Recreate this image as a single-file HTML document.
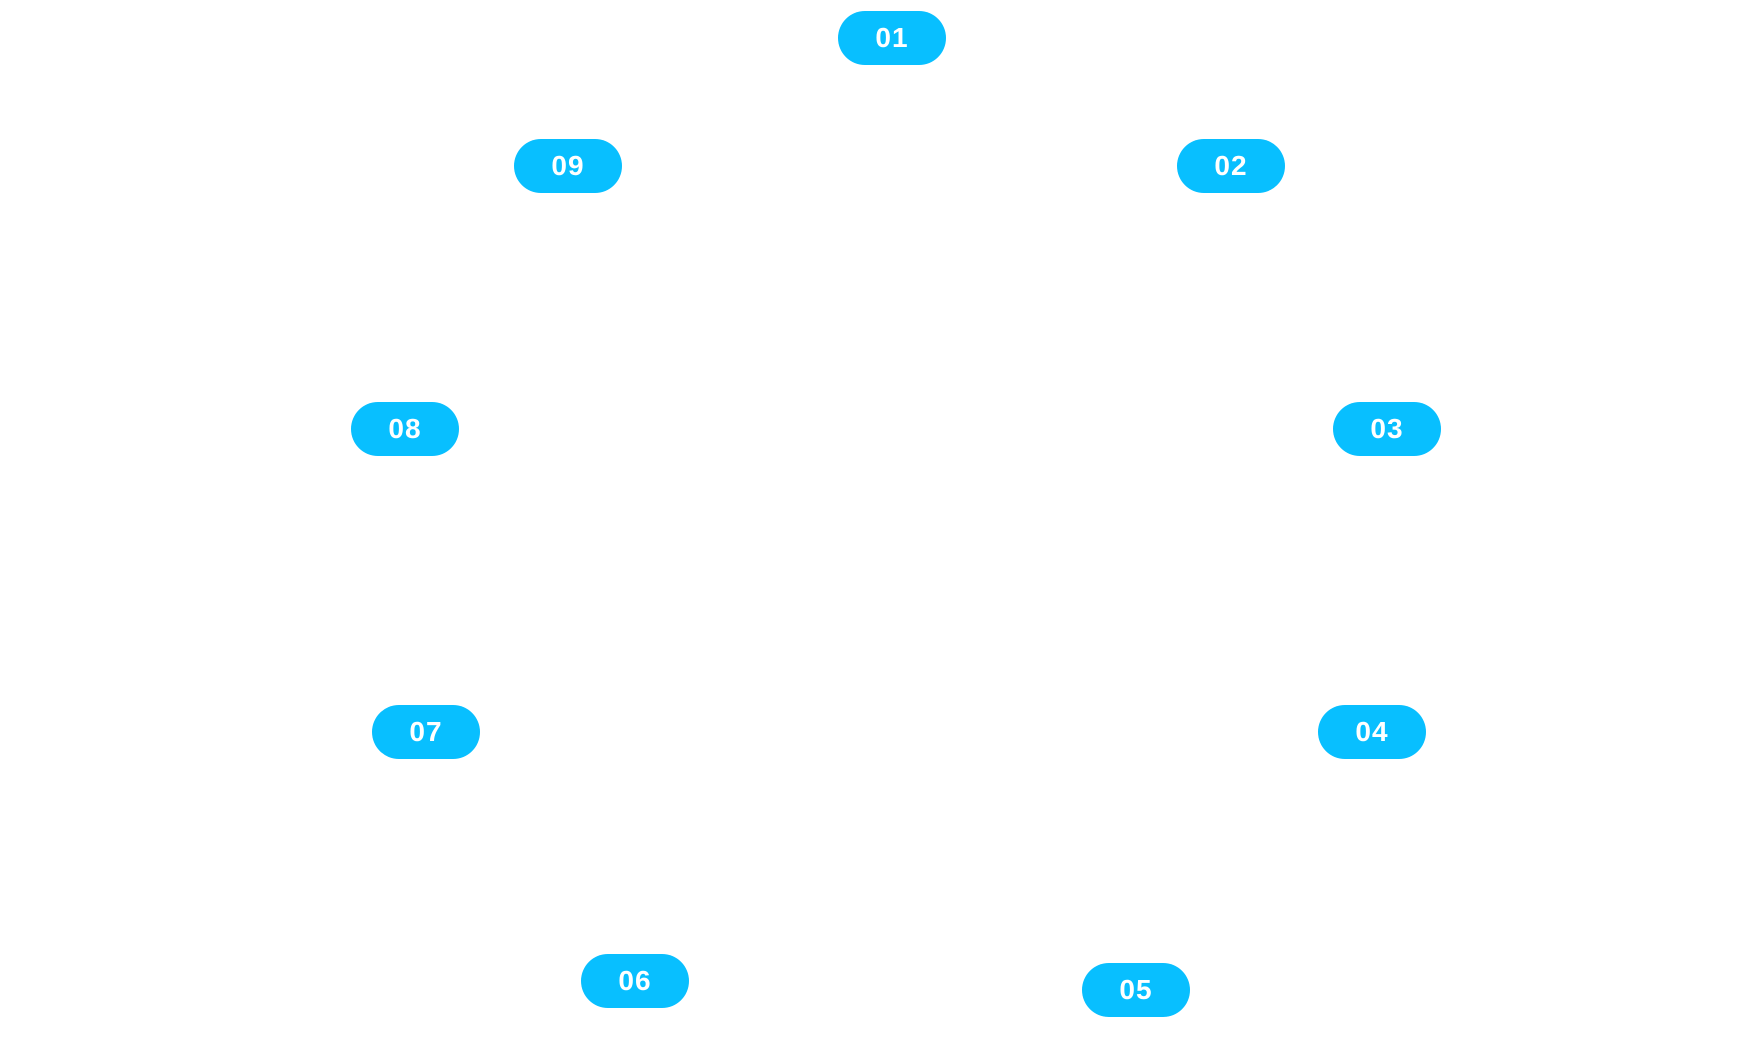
<!DOCTYPE html>
<html>
<head>
<meta charset="utf-8">
<style>
  html, body { margin:0; padding:0; background:#ffffff; }
  body { width:1740px; height:1057px; position:relative; overflow:hidden; }
  .pill {
    position:absolute; width:108px; height:54px; border-radius:27px;
    background:#08bfff; color:#ffffff;
    font-family:"Liberation Sans", sans-serif; font-weight:bold;
    font-size:28px; line-height:54px; text-align:center;
    letter-spacing:1px;
  }
</style>
</head>
<body>
  <div class="pill" style="left:838px; top:11px;">01</div>
  <div class="pill" style="left:1177px; top:139px;">02</div>
  <div class="pill" style="left:1333px; top:402px;">03</div>
  <div class="pill" style="left:1318px; top:705px;">04</div>
  <div class="pill" style="left:1082px; top:963px;">05</div>
  <div class="pill" style="left:581px; top:954px;">06</div>
  <div class="pill" style="left:372px; top:705px;">07</div>
  <div class="pill" style="left:351px; top:402px;">08</div>
  <div class="pill" style="left:514px; top:139px;">09</div>
</body>
</html>
